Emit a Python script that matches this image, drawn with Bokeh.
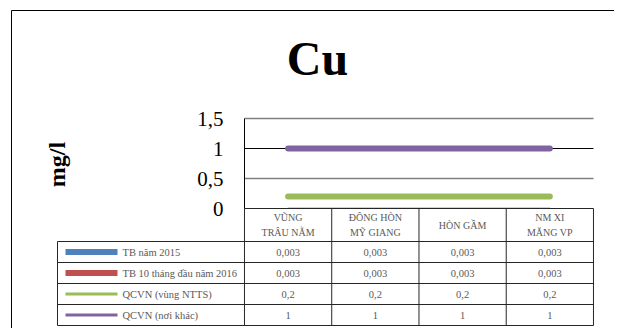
from bokeh.plotting import figure
from bokeh.models import Range1d, LinearAxis, FixedTicker
from bokeh.core.properties import value
from bokeh.embed import file_html
from bokeh.resources import INLINE
import math

# ---------------- data ----------------
title_text = "Cu"
y_label = "mg/l"
categories = ["VŨNG\nTRÂU NẰM", "ĐÔNG HÒN\nMỸ GIANG", "HÒN GẦM", "NM XI\nMĂNG VP"]
series_names = ["TB năm 2015", "TB 10 tháng đầu năm 2016", "QCVN (vùng NTTS)", "QCVN (nơi khác)"]
tb_2015 = [0.003, 0.003, 0.003, 0.003]
tb_2016 = [0.003, 0.003, 0.003, 0.003]
qcvn_ntts = [0.2, 0.2, 0.2, 0.2]
qcvn_khac = [1.0, 1.0, 1.0, 1.0]
y_ticks = [0, 0.5, 1, 1.5]
y_tick_labels = ["0", "0,5", "1", "1,5"]

# ---------------- styles / layout ----------------
colors = ["#4F81BD", "#C0504D", "#9BBB59", "#8064A2"]
swatch_widths = [6, 6, 3, 3]
SERIF = "Liberation Serif"
W, H = 614, 328
COL_W = 87.25                # px per category
X0_PAGE = 287.6              # image x of first category centre
Y0_PAGE = 208.0              # image y of value 0
PX_PER_UNIT = 60.0


def dx(xp):
    return (xp - X0_PAGE) / COL_W


def dy(yp):
    return (Y0_PAGE - yp) / PX_PER_UNIT


p = figure(width=W, height=H, output_backend="svg", toolbar_location=None,
           x_range=Range1d(dx(0), dx(W)), y_range=Range1d(dy(H), dy(0)),
           x_axis_location=None, y_axis_location=None, min_border=0)
p.xgrid.visible = False
p.ygrid.visible = False
p.outline_line_color = None
p.background_fill_color = "white"
p.border_fill_color = "white"

n = len(categories)
xs = list(range(n))
x_left, x_right = -0.5, n - 0.5

# outer chart border (left and top edges visible)
p.segment(x0=[dx(11), dx(11)], y0=[dy(10), dy(10)], x1=[dx(11), dx(W + 20)],
          y1=[dy(H + 20), dy(10)], line_color="#000000", line_width=1)

# gridlines (0,5 and 1,5 grey, 1 black)
grey_ticks = [t for t in y_ticks if t in (0.5, 1.5)]
black_ticks = [t for t in y_ticks if t == 1]
p.segment(x0=[x_left] * len(grey_ticks), y0=grey_ticks, x1=[x_right] * len(grey_ticks),
          y1=grey_ticks, line_color="#808080", line_width=1.5)
p.segment(x0=[x_left] * len(black_ticks), y0=black_ticks, x1=[x_right] * len(black_ticks),
          y1=black_ticks, line_color="#000000", line_width=1)

# series lines
all_series = [tb_2015, tb_2016, qcvn_ntts, qcvn_khac]
line_widths = [1, 1, 6, 6]
for vals, c, lw in zip(all_series, colors, line_widths):
    p.line(xs, vals, line_color=c, line_width=lw, line_cap="round")

# y axis
yaxis = LinearAxis(ticker=FixedTicker(ticks=y_ticks), bounds=(0, 1.5), fixed_location=x_left,
                   major_label_overrides={t: l for t, l in zip(y_ticks, y_tick_labels)},
                   axis_line_color="#000000", axis_line_width=1,
                   major_tick_in=0, major_tick_out=0, minor_tick_in=0, minor_tick_out=0,
                   major_label_standoff=21,
                   major_label_text_font=SERIF, major_label_text_font_size="21px",
                   major_label_text_color="#000000")
p.add_layout(yaxis, "left")

# ---------------- data table ----------------
header_top = 0.0
header_bot = dy(241)
row_h = 21.0 / PX_PER_UNIT
row_edges = [header_bot - i * row_h for i in range(len(series_names) + 1)]
table_left = dx(57)
line_col = "#262626"

# horizontal lines
hx0 = [x_left] + [table_left] * len(row_edges)
hx1 = [x_right] * (len(row_edges) + 1)
hy = [header_top] + row_edges
p.segment(x0=hx0, y0=hy, x1=hx1, y1=hy, line_color=line_col, line_width=1)
# vertical lines
col_edges = [x_left + i for i in range(n + 1)]
p.segment(x0=col_edges, y0=[header_top] * len(col_edges), x1=col_edges,
          y1=[row_edges[-1]] * len(col_edges), line_color=line_col, line_width=1)
p.segment(x0=[table_left], y0=[row_edges[0]], x1=[table_left], y1=[row_edges[-1]],
          line_color=line_col, line_width=1)

# header labels
p.text(x=xs, y=[(header_top + header_bot) / 2] * n, text=categories,
       text_font=value(SERIF), text_font_size="10px", text_color="#595959",
       text_align="center", text_baseline="middle", text_line_height=1.35)


def fmt(v):
    return ("%g" % v).replace(".", ",")


row_centers = [(row_edges[i] + row_edges[i + 1]) / 2 for i in range(len(series_names))]
for i, (name, vals, c, sw) in enumerate(zip(series_names, all_series, colors, swatch_widths)):
    yc = row_centers[i]
    p.segment(x0=[dx(65)], y0=[yc], x1=[dx(117)], y1=[yc], line_color=c, line_width=sw)
    p.text(x=[dx(122)], y=[yc], text=[name], text_font=value(SERIF), text_font_size="10.5px",
           text_color="#595959", text_align="left", text_baseline="middle")
    p.text(x=xs, y=[yc] * n, text=[fmt(v) for v in vals], text_font=value(SERIF),
           text_font_size="10.5px", text_color="#595959", text_align="center",
           text_baseline="middle")

# title and axis label
p.text(x=[dx(317)], y=[dy(58)], text=[title_text], text_font=value(SERIF),
       text_font_size="48px", text_font_style="bold", text_color="#000000",
       text_align="center", text_baseline="middle")
p.text(x=[dx(56)], y=[dy(164)], text=[y_label], text_font=value(SERIF),
       text_font_size="24px", text_font_style="bold", text_color="#000000",
       text_align="center", text_baseline="middle", angle=math.pi / 2)

open("out.html", "w").write(file_html(p, INLINE))
